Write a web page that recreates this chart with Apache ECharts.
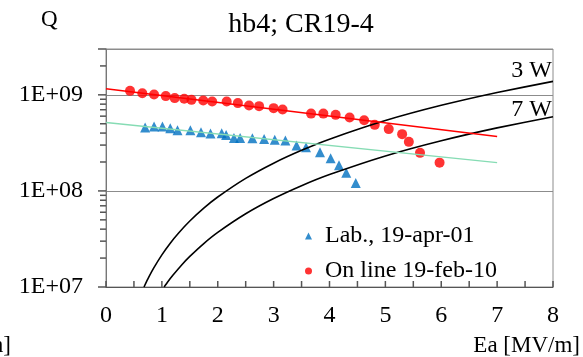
<!DOCTYPE html>
<html>
<head>
<meta charset="utf-8">
<script src="https://cdn.jsdelivr.net/npm/echarts@6/dist/echarts.min.js"></script>
<style>
  html, body { margin: 0; padding: 0; background: #fff; }
  #chart { width: 583px; height: 357px; }
</style>
</head>
<body>
<div id="chart"></div>
<script>
// Laboratory test, 19-apr-01: accelerating field [MV/m] and quality factor
const eaLab = [0.70, 0.86, 1.01, 1.15, 1.28, 1.51, 1.70, 1.87, 2.07, 2.15, 2.29, 2.40,
               2.62, 2.83, 3.02, 3.21, 3.41, 3.58, 3.83, 4.02, 4.17, 4.30, 4.47];
const qLab = [4.56e8, 4.67e8, 4.67e8, 4.50e8, 4.29e8, 4.29e8, 4.08e8, 3.95e8, 3.99e8, 3.83e8, 3.56e8, 3.56e8,
              3.54e8, 3.48e8, 3.40e8, 3.34e8, 2.97e8, 2.85e8, 2.53e8, 2.19e8, 1.85e8, 1.55e8, 1.21e8];

// On-line measurement, 19-feb-10
const eaOnline = [0.43, 0.65, 0.86, 1.07, 1.23, 1.40, 1.53, 1.74, 1.90, 2.16, 2.36, 2.56, 2.74,
                  3.00, 3.16, 3.67, 3.89, 4.11, 4.36, 4.62, 4.81, 5.06, 5.30, 5.42, 5.62, 5.97];
const qOnline = [1.10e9, 1.04e9, 1.01e9, 0.97e9, 0.925e9, 0.91e9, 0.887e9, 0.873e9, 0.851e9, 0.851e9, 0.82e9, 0.774e9, 0.763e9,
                 0.727e9, 0.703e9, 0.638e9, 0.638e9, 0.619e9, 0.58e9, 0.545e9, 0.487e9, 0.44e9, 0.39e9, 0.324e9, 0.249e9, 0.197e9];

// Trend lines (end points)
const eaLabFit = [0, 7];
const qLabFit = [5.14e8, 1.97e8];
const eaOnlineFit = [0, 7];
const qOnlineFit = [1.155e9, 0.368e9];

// Constant dissipated power curves
const ea3W = [0.68, 0.75, 0.85, 1.0, 1.15, 1.3, 1.5, 1.75, 2.0, 2.5, 3, 3.5, 4, 5, 6, 7, 8];
const q3W = [1.0e7, 1.215e7, 1.56e7, 2.16e7, 2.86e7, 3.65e7, 4.86e7, 6.62e7, 8.64e7, 1.35e8,
             1.944e8, 2.646e8, 3.456e8, 5.4e8, 7.776e8, 1.058e9, 1.382e9];
const ea7W = [1.04, 1.1, 1.2, 1.35, 1.5, 1.75, 2.0, 2.5, 3, 3.5, 4, 5, 6, 7, 8];
const q7W = [1.0e7, 1.12e7, 1.33e7, 1.686e7, 2.08e7, 2.833e7, 3.7e7, 5.78e7, 8.325e7, 1.133e8,
             1.48e8, 2.313e8, 3.33e8, 4.533e8, 5.92e8];

// Tick values on the logarithmic Q axis (decades get longer marks)
const qMajorTicks = [1e7, 1e8, 1e9, 3e9];
const qMinorTicks = [2e7, 3e7, 4e7, 5e7, 6e7, 7e7, 8e7, 9e7,
                     2e8, 3e8, 4e8, 5e8, 6e8, 7e8, 8e8, 9e8, 2e9];

// Tick positions along the Ea axis
const xTicks = [0, 0.5, 1, 1.5, 2, 2.5, 3, 3.5, 4, 4.5, 5, 5.5, 6, 6.5, 7, 7.5, 8];
const xTickLabels = ['0', '1', '2', '3', '4', '5', '6', '7', '8'];

const FONT = "'Liberation Serif', 'Times New Roman', serif";
const zip = (xs, ys) => xs.map((x, i) => [x, ys[i]]);

const chart = echarts.init(document.getElementById('chart'), null, { renderer: 'canvas' });

chart.setOption({
  animation: false,
  backgroundColor: '#fff',
  title: {
    text: 'hb4; CR19-4',
    left: 296, top: 6,
    textAlign: 'center',
    textStyle: { fontFamily: FONT, fontSize: 28, fontWeight: 'normal', color: '#000' }
  },
  grid: {
    left: 106, right: 30, top: 49, bottom: 70,
    show: true, borderColor: '#8c8c8c', borderWidth: 1, backgroundColor: 'transparent'
  },
  legend: {
    orient: 'vertical',
    left: 300, top: 219,
    itemWidth: 7, itemHeight: 7,
    itemGap: 11,
    data: [
      { name: 'Lab., 19-apr-01', icon: 'triangle' },
      { name: 'On line 19-feb-10', icon: 'circle' }
    ],
    textStyle: { fontFamily: FONT, fontSize: 24, color: '#000', padding: [0, 0, 0, 8] }
  },
  xAxis: {
    type: 'value',
    min: 0, max: 8, interval: 1,
    axisLine: { show: true, lineStyle: { color: '#555', width: 1 } },
    axisTick: { show: false },
    splitLine: { show: false },
    axisLabel: {
      fontFamily: FONT, fontSize: 24, color: '#000', margin: 17,
      formatter: v => xTickLabels[Math.round(v)]
    }
  },
  yAxis: {
    type: 'log',
    logBase: 10,
    min: 1e7, max: 3e9,
    axisLine: { show: true, lineStyle: { color: '#777', width: 1 } },
    axisTick: { show: false },
    splitLine: { show: true, lineStyle: { color: '#8c8c8c', width: 1 } },
    axisLabel: {
      fontFamily: FONT, fontSize: 24, color: '#000', margin: 23,
      showMaxLabel: false,
      formatter: v => {
        const e = Math.log10(v);
        if (Math.abs(e - Math.round(e)) > 1e-6) return '';
        const n = Math.round(e);
        return '1E+' + (n < 10 ? '0' + n : n);
      }
    }
  },
  graphic: [
    { type: 'text', left: 41, top: 8, style: { text: 'Q', font: '23px ' + FONT, fill: '#000' } },
    { type: 'text', right: 31, top: 59, style: { text: '3 W', font: '24px ' + FONT, fill: '#000' } },
    { type: 'text', right: 31, top: 98, style: { text: '7 W', font: '24px ' + FONT, fill: '#000' } },
    { type: 'text', right: 3, top: 334, style: { text: 'Ea [MV/m]', font: '23px ' + FONT, fill: '#000' } },
    { type: 'text', x: 11, y: 334, style: { text: 'm]', font: '23px ' + FONT, fill: '#000', align: 'right' } }
  ],
  series: [
    {
      name: '3 W', type: 'line', data: zip(ea3W, q3W), smooth: 0.2,
      showSymbol: false, silent: true,
      lineStyle: { color: '#000', width: 1.6 }
    },
    {
      name: '7 W', type: 'line', data: zip(ea7W, q7W), smooth: 0.2,
      showSymbol: false, silent: true,
      lineStyle: { color: '#000', width: 1.6 }
    },
    {
      name: 'labFit', type: 'line', data: zip(eaLabFit, qLabFit),
      showSymbol: false, silent: true,
      lineStyle: { color: '#86dcb4', width: 1.5 }
    },
    {
      name: 'onlineFit', type: 'line', data: zip(eaOnlineFit, qOnlineFit),
      showSymbol: false, silent: true,
      lineStyle: { color: '#ff0000', width: 1.5 }
    },
    {
      name: 'Lab., 19-apr-01', type: 'scatter', data: zip(eaLab, qLab),
      symbol: 'triangle', symbolSize: 10,
      itemStyle: { color: '#0070c0' }
    },
    {
      name: 'On line 19-feb-10', type: 'scatter', data: zip(eaOnline, qOnline),
      symbol: 'circle', symbolSize: 10,
      itemStyle: { color: '#ff0000' }
    }
  ]
});

// Tick marks, placed through the chart's own axis scales.
function tickLine(id, x1, y1, x2, y2) {
  return {
    id: id, type: 'line', silent: true, z: 50,
    shape: { x1: x1, y1: y1, x2: x2, y2: y2 },
    style: { stroke: '#555', lineWidth: 1.5 }
  };
}
const ticks = [];
qMajorTicks.forEach((v, i) => {
  const p = chart.convertToPixel({ gridIndex: 0 }, [0, v]);
  ticks.push(tickLine('qMaj' + i, p[0] - 8, p[1], p[0], p[1]));
});
qMinorTicks.forEach((v, i) => {
  const p = chart.convertToPixel({ gridIndex: 0 }, [0, v]);
  ticks.push(tickLine('qMin' + i, p[0] - 6, p[1], p[0], p[1]));
});
xTicks.forEach((v, i) => {
  const p = chart.convertToPixel({ gridIndex: 0 }, [v, 1e7]);
  ticks.push(tickLine('ea' + i, p[0], p[1], p[0], p[1] - 6));
});
chart.setOption({ graphic: ticks });
</script>
</body>
</html>
